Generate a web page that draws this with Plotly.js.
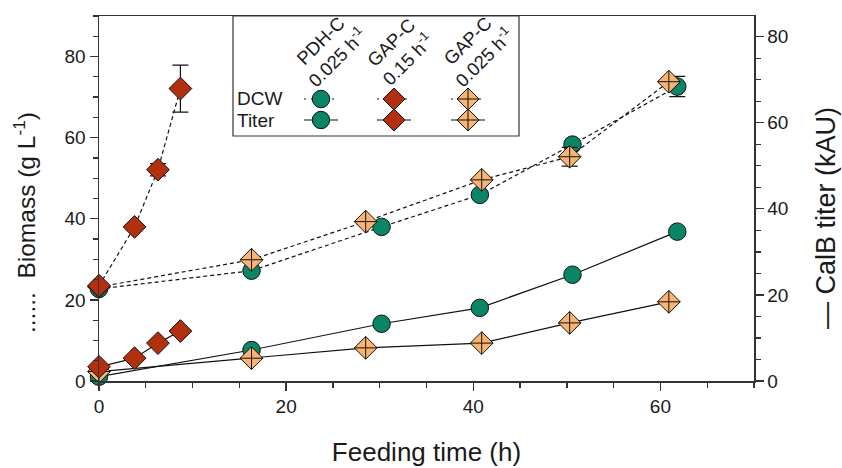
<!DOCTYPE html>
<html>
<head>
<meta charset="utf-8">
<script src="https://cdn.plot.ly/plotly-3.0.1.min.js"></script>
<style>html,body{margin:0;padding:0;background:#fff;}#chart{width:842px;height:468px;}</style>
</head>
<body>
<div id="chart"></div>
<script>
// ---- Data ----
const timePDH = [0, 16.3, 30.2, 40.7, 50.6, 61.8];
const dcwPDH = [22.7, 27.2, 38.0, 45.9, 58.3, 72.6];
const dcwErrPDH = [null, null, null, null, null, 2.5];
const titerPDH = [1.0, 7.2, 13.3, 17.0, 24.7, 34.7];

const timeGAP15 = [0, 3.8, 6.3, 8.7];
const dcwGAP15 = [23.5, 38.0, 52.1, 72.1];
const dcwErrGAP15 = [null, null, 1.5, 5.8];
const titerGAP15 = [3.3, 5.3, 8.8, 11.6];

const timeGAP025 = [0, 16.3, 28.5, 40.9, 50.3, 60.9];
const dcwGAP025 = [23.2, 29.9, 39.3, 49.6, 55.3, 73.8];
const dcwErrGAP025 = [null, null, null, null, 2.3, null];
const titerGAP025 = [2.2, 5.3, 7.7, 8.8, 13.5, 18.4];

const seriesNames = ['PDH-C<br>0.025 h<sup>-1</sup>', 'GAP-C<br>0.15 h<sup>-1</sup>', 'GAP-C<br>0.025 h<sup>-1</sup>'];
const rowLabels = ['DCW', 'Titer'];

const xTickVals = [0, 20, 40, 60];
const yTickVals = [0, 20, 40, 60, 80];

const xTitle = 'Feeding time (h)';
const yTitle = '......  Biomass (g L<sup>-1</sup>)';
const y2Title = '— CalB titer (kAU)';

// ---- Styles ----
const GREEN = '#0a8566';
const RED = '#b2300e';
const ORANGE = '#f8b470';
const FONT = 'Liberation Sans, Arial, sans-serif';
const TXT = '#1a1a1a';

const W = 842, H = 468;
const M = {l: 99, r: 88, t: 16, b: 87};
const PW = W - M.l - M.r, PH = H - M.t - M.b;
const px2x = p => (p - M.l) / PW;
const px2y = p => (H - M.b - p) / PH;

const toErr = a => a.map(v => v === null ? NaN : v);

function dcwTrace(x, y, err, sym, color) {
  return {
    x: x, y: y, type: 'scatter', mode: 'lines+markers', yaxis: 'y', cliponaxis: false,
    line: {color: '#111', width: 1.2, dash: '4px,3px'},
    marker: {symbol: sym, size: 17.5, color: color, line: {color: '#111', width: 1}},
    error_y: {type: 'data', array: toErr(err), visible: true, color: '#111', thickness: 1.2, width: 8},
    showlegend: false, hoverinfo: 'skip'
  };
}
function titerTrace(x, y, sym, color) {
  return {
    x: x, y: y, type: 'scatter', mode: 'lines+markers', yaxis: 'y2', cliponaxis: false,
    line: {color: '#111', width: 1.2},
    marker: {symbol: sym, size: 17.5, color: color, line: {color: '#111', width: 1}},
    showlegend: false, hoverinfo: 'skip'
  };
}

const data = [
  dcwTrace(timePDH, dcwPDH, dcwErrPDH, 'circle', GREEN),
  titerTrace(timePDH, titerPDH, 'circle', GREEN),
  dcwTrace(timeGAP025, dcwGAP025, dcwErrGAP025, 'diamond-cross', ORANGE),
  titerTrace(timeGAP025, titerGAP025, 'diamond-cross', ORANGE),
  dcwTrace(timeGAP15, dcwGAP15, dcwErrGAP15, 'diamond', RED),
  titerTrace(timeGAP15, titerGAP15, 'diamond', RED)
];

// ---- Custom legend (shapes + annotations) ----
const shapes = [];
const annotations = [];
shapes.push({type: 'rect', xref: 'paper', yref: 'paper',
  x0: px2x(233), x1: px2x(519), y0: px2y(136), y1: px2y(16),
  line: {color: '#333', width: 1.2}, fillcolor: 'white', layer: 'above'});

const legCols = [321, 394, 468];
const legRows = [99, 120];
const legHdr = [[329, 50], [399, 51], [476, 50]];
const legStyle = [
  {kind: 'circle', color: GREEN},
  {kind: 'diamond', color: RED},
  {kind: 'diamond-cross', color: ORANGE}
];

function pixShape(cx, cy, extra) {
  return Object.assign({xref: 'paper', yref: 'paper', xsizemode: 'pixel', ysizemode: 'pixel',
    xanchor: px2x(cx), yanchor: px2y(cy), layer: 'above'}, extra);
}

legCols.forEach((cx, i) => {
  legRows.forEach((cy, r) => {
    shapes.push(pixShape(cx, cy, {type: 'line', x0: -17, x1: 17, y0: 0, y1: 0,
      line: {color: '#111', width: 1.1, dash: r === 0 ? '2px,5px' : 'solid'}}));
    const st = legStyle[i];
    if (st.kind === 'circle') {
      shapes.push(pixShape(cx, cy, {type: 'circle', x0: -8.7, x1: 8.7, y0: -8.7, y1: 8.7,
        fillcolor: st.color, line: {color: '#111', width: 1}}));
    } else {
      shapes.push(pixShape(cx, cy, {type: 'path', path: 'M 0 -11 L 11 0 L 0 11 L -11 0 Z',
        fillcolor: st.color, line: {color: '#111', width: 1}}));
      if (st.kind === 'diamond-cross') {
        shapes.push(pixShape(cx, cy, {type: 'path', path: 'M -11 0 L 11 0 M 0 -11 L 0 11',
          line: {color: '#111', width: 1}}));
      }
    }
  });
  annotations.push({xref: 'paper', yref: 'paper', x: px2x(legHdr[i][0]), y: px2y(legHdr[i][1]),
    text: seriesNames[i], textangle: -45, showarrow: false, xanchor: 'center', yanchor: 'middle',
    font: {family: FONT, size: 18.5, color: TXT}});
});
rowLabels.forEach((lab, r) => {
  annotations.push({xref: 'paper', yref: 'paper', x: px2x(235), y: px2y(legRows[r]),
    text: lab, showarrow: false, xanchor: 'left', yanchor: 'middle',
    font: {family: FONT, size: 19, color: TXT}});
});

// Axis titles for the two y axes (placed as in the reference)
annotations.push({xref: 'paper', yref: 'paper', x: px2x(24), y: px2y(223),
  text: yTitle, textangle: -90, showarrow: false, xanchor: 'center', yanchor: 'middle',
  font: {family: FONT, size: 24.5, color: TXT}});
annotations.push({xref: 'paper', yref: 'paper', x: px2x(826), y: px2y(218),
  text: y2Title, textangle: -90, showarrow: false, xanchor: 'center', yanchor: 'middle',
  font: {family: FONT, size: 27, color: TXT}});

const axisCommon = {
  showline: true, linecolor: '#333', linewidth: 1.5, ticks: 'outside', ticklen: 8,
  tickwidth: 1.3, tickcolor: '#333', showgrid: false, zeroline: false,
  tickfont: {family: FONT, size: 19, color: TXT}
};
const minorTicks = {dtick: 5, tick0: 0, ticks: 'outside', ticklen: 5, tickwidth: 1.3, tickcolor: '#333'};

const layout = {
  width: W, height: H, margin: M, paper_bgcolor: 'white', plot_bgcolor: 'white',
  showlegend: false,
  xaxis: Object.assign({}, axisCommon, {
    range: [0, 70], tickvals: xTickVals, mirror: true, minor: minorTicks,
    title: {text: xTitle, font: {family: FONT, size: 26, color: TXT}, standoff: 26}
  }),
  yaxis: Object.assign({}, axisCommon, {
    range: [0, 90], tickvals: yTickVals, minor: minorTicks
  }),
  yaxis2: Object.assign({}, axisCommon, {
    range: [0, 84.8], tickvals: yTickVals, overlaying: 'y', side: 'right', minor: minorTicks
  }),
  shapes: shapes,
  annotations: annotations
};

Plotly.newPlot('chart', data, layout, {staticPlot: true, displayModeBar: false});
</script>
</body>
</html>
